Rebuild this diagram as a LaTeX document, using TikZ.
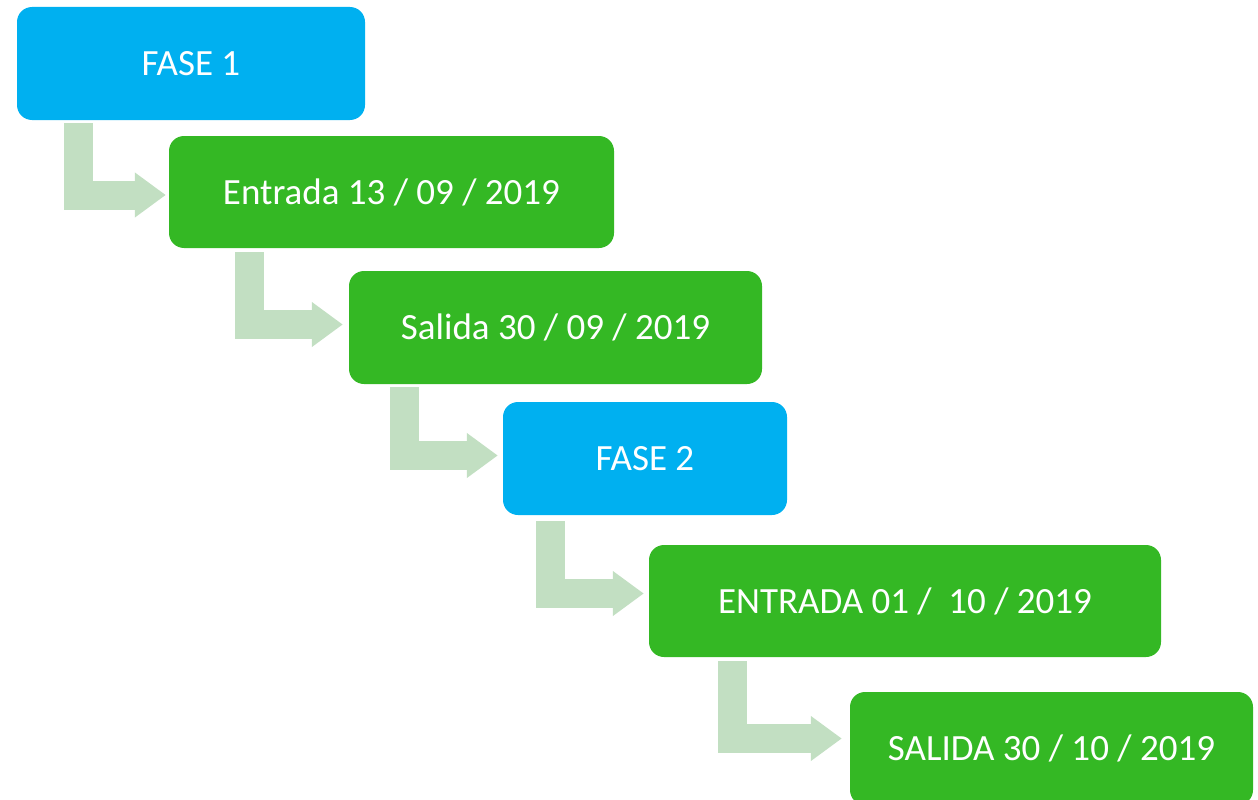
\documentclass[tikz,border=0pt]{standalone}
\usepackage{fontspec}
\setmainfont{Carlito}
\usetikzlibrary{arrows.meta,calc}
\definecolor{boxblue}{HTML}{00B0F0}
\definecolor{boxgreen}{HTML}{34B824}
\definecolor{arrgreen}{HTML}{C2DFC2}
\tikzset{
  stage/.style={rectangle, rounded corners=15pt, draw=none, text=white,
    font=\fontsize{37}{44}\selectfont, inner sep=0pt},
  bluestage/.style={stage, fill=boxblue},
  greenstage/.style={stage, fill=boxgreen},
  bent/.style={draw=arrgreen, line width=29pt, line cap=butt, miter limit=10,
    -{Triangle[length=31pt,width=43pt]}}
}
\begin{document}
\begin{tikzpicture}[x=1pt,y=-1pt]
\useasboundingbox (0,0) rectangle (1258,800);
\clip (0,0) rectangle (1258,800);
\node[bluestage, minimum width=348pt, minimum height=113pt] (f1) at (191,63.5) {FASE 1};
\node[greenstage, minimum width=445pt, minimum height=112pt] (e1) at (391.5,192) {Entrada 13 / 09 / 2019};
\node[greenstage, minimum width=413pt, minimum height=113pt] (s1) at (555.5,327.5) {Salida 30 / 09 / 2019};
\node[bluestage, minimum width=284pt, minimum height=113pt] (f2) at (645,458.5) {FASE 2};
\node[greenstage, minimum width=512pt, minimum height=112pt] (e2) at (905,601) {ENTRADA 01 /\ \ 10 / 2019};
\node[greenstage, minimum width=403pt, minimum height=113pt] (s2) at (1051.5,748.5) {SALIDA 30 / 10 / 2019};
\draw[bent] ($(f1.south west)+(61.5,3)$) |- ($(e1.west)+(-3,3)$);
\draw[bent] ($(e1.south west)+(80.5,4)$) |- ($(s1.west)+(-6,-3)$);
\draw[bent] ($(s1.south west)+(55.5,3)$) |- ($(f2.west)+(-5,-3)$);
\draw[bent] ($(f2.south west)+(47.5,6)$) |- ($(e2.west)+(-5,-7.5)$);
\draw[bent] ($(e2.south west)+(83.5,4)$) |- ($(s2.west)+(-8,-10)$);
\end{tikzpicture}
\end{document}
